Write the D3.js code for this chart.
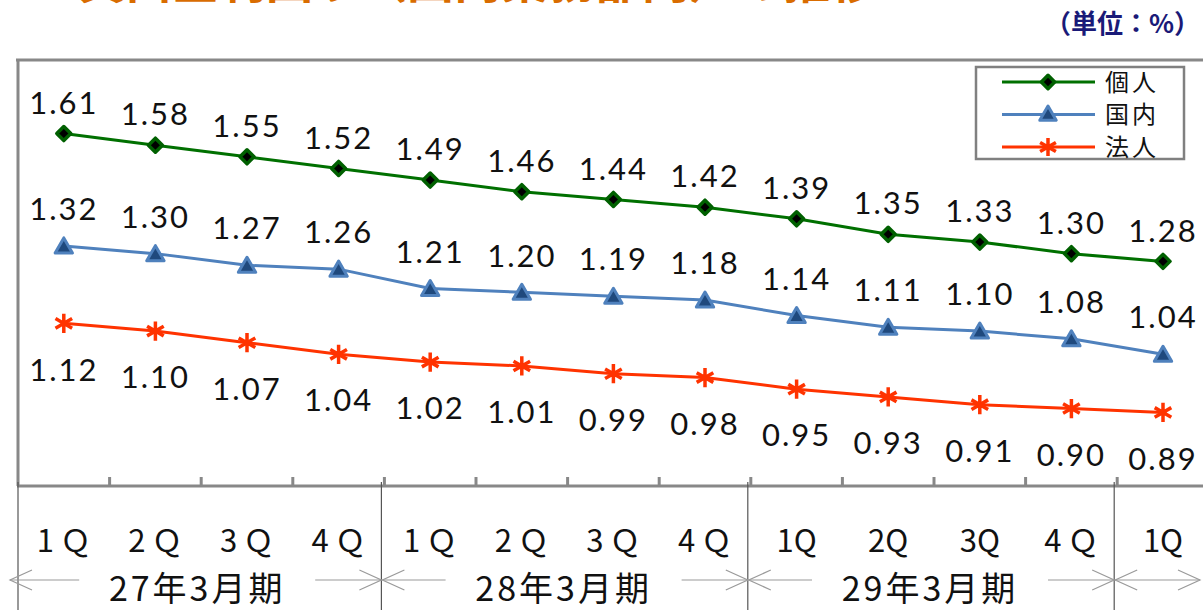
<!DOCTYPE html>
<html lang="ja">
<head>
<meta charset="utf-8">
<script src="https://cdn.jsdelivr.net/npm/d3@7"></script>
<style>
  html, body { margin: 0; padding: 0; background: #fff; }
  svg { display: block; }
</style>
</head>
<body>
<svg id="chart" width="1203" height="610"></svg>
<script>
// Quarter labels (13 quarters across three fiscal years plus one)
const quarters = ["1Ｑ", "2Ｑ", "3Ｑ", "4Ｑ", "1Ｑ", "2Ｑ", "3Ｑ", "4Ｑ", "1Q", "2Q", "3Q", "4Ｑ", "1Q"];
// Fiscal-year groups: label and number of quarters
const fiscalYears = ["27年3月期", "28年3月期", "29年3月期", ""];
const fiscalCounts = [4, 4, 4, 1];

// Series values (%)
const kojin = [1.61, 1.58, 1.55, 1.52, 1.49, 1.46, 1.44, 1.42, 1.39, 1.35, 1.33, 1.30, 1.28];
const kokunai = [1.32, 1.30, 1.27, 1.26, 1.21, 1.20, 1.19, 1.18, 1.14, 1.11, 1.10, 1.08, 1.04];
const houjin = [1.12, 1.10, 1.07, 1.04, 1.02, 1.01, 0.99, 0.98, 0.95, 0.93, 0.91, 0.90, 0.89];

const seriesNames = ["個人", "国内", "法人"];

const svg = d3.select("#chart");
const W = 1203, H = 610;

const plotLeft = 18, plotTop = 60, plotBottom = 486;
const step = 91.6;

const x = d3.scaleBand()
  .domain(d3.range(quarters.length))
  .range([plotLeft, plotLeft + step * quarters.length])
  .paddingInner(0).paddingOuter(0);
const cx = i => x(i) + x.bandwidth() / 2;

const y = d3.scaleLinear().domain([0.7, 1.8]).range([plotBottom, plotTop]);

const numFont = "Lato, 'Open Sans', sans-serif";
const jpFont = "'Noto Sans CJK JP', sans-serif";

// Title (runs off the top edge)
svg.append("text")
  .attr("x", 78).attr("y", -2)
  .attr("font-family", jpFont)
  .attr("font-weight", "bold")
  .attr("font-size", 47)
  .attr("fill", "#D96C00")
  .text("貸出金利回り（国内業務部門）の推移");

// Unit note
svg.append("text")
  .attr("x", 1200).attr("y", 33)
  .attr("text-anchor", "end")
  .attr("font-family", jpFont)
  .attr("font-weight", "bold")
  .attr("font-size", 26)
  .attr("fill", "#1a1a78")
  .text("（単位：%）");

// Plot frame
const frameColor = "#888";
svg.append("line").attr("x1", plotLeft - 2).attr("x2", W + 5)
  .attr("y1", plotTop).attr("y2", plotTop)
  .attr("stroke", frameColor).attr("stroke-width", 3);
svg.append("line").attr("x1", plotLeft).attr("x2", plotLeft)
  .attr("y1", plotTop).attr("y2", plotBottom)
  .attr("stroke", frameColor).attr("stroke-width", 3);

// Category axis with short upward ticks at quarter boundaries
const axisG = svg.append("g").attr("transform", `translate(0,${plotBottom})`);
const xAxis = d3.axisBottom(x).tickSize(0).tickFormat("");
axisG.call(xAxis);
axisG.select(".domain").remove();
axisG.append("line").attr("x1", plotLeft - 1).attr("x2", W + 5)
  .attr("y1", 0).attr("y2", 0)
  .attr("stroke", frameColor).attr("stroke-width", 3);
axisG.selectAll(".qtick")
  .data(d3.range(1, quarters.length))
  .join("line")
  .attr("class", "qtick")
  .attr("x1", i => x(i)).attr("x2", i => x(i))
  .attr("y1", -9).attr("y2", 0)
  .attr("stroke", frameColor).attr("stroke-width", 3);

// Quarter labels (full-width Ｑ drawn with wider spacing)
svg.append("g").selectAll("text")
  .data(quarters)
  .join("text")
  .attr("x", (d, i) => cx(i) + (d.includes("Ｑ") ? 3 : 0))
  .attr("y", 552)
  .attr("text-anchor", "middle")
  .attr("font-family", jpFont)
  .attr("font-size", 31)
  .attr("letter-spacing", d => d.includes("Ｑ") ? 6 : 0)
  .attr("fill", "#111")
  .text(d => d);

// Fiscal-year dividers and arrow brackets
const bounds = [0];
fiscalCounts.forEach(c => bounds.push(bounds[bounds.length - 1] + c));
const edgeX = k => (k < quarters.length ? x(k) : W + 10);
const divG = svg.append("g");
bounds.slice(0, -1).forEach(k => {
  const xx = edgeX(k) - (k === 0 ? 0 : 3);
  divG.append("line").attr("x1", xx).attr("x2", xx)
    .attr("y1", plotBottom - 4).attr("y2", H)
    .attr("stroke", "#555").attr("stroke-width", 1.2);
});

const arrowY = 580;
const arrowColor = "#9a9a9a";
function arrowHead(g, tipX, dir) {
  // dir = -1 points left, +1 points right
  g.append("path")
    .attr("d", `M${tipX - dir * 22},${arrowY - 10} L${tipX},${arrowY} L${tipX - dir * 22},${arrowY + 10}`)
    .attr("fill", "none").attr("stroke", arrowColor).attr("stroke-width", 1.2);
}
fiscalYears.forEach((label, gi) => {
  const g = svg.append("g");
  const x0 = gi === 0 ? 10 : edgeX(bounds[gi]) - 2;
  const x1 = gi === fiscalYears.length - 1 ? 1200 : edgeX(bounds[gi + 1]) - 3;
  const mid = (edgeX(bounds[gi]) + edgeX(bounds[gi + 1])) / 2 - 4;
  if (label) {
    g.append("text")
      .attr("x", mid).attr("y", 601)
      .attr("text-anchor", "middle")
      .attr("font-family", jpFont)
      .attr("font-size", 34)
      .attr("letter-spacing", 3)
      .attr("fill", "#111")
      .text(label);
    const half = 92;
    g.append("line").attr("x1", x0).attr("x2", mid - half - 26)
      .attr("y1", arrowY).attr("y2", arrowY).attr("stroke", arrowColor).attr("stroke-width", 1.2);
    g.append("line").attr("x1", mid + half + 26).attr("x2", x1)
      .attr("y1", arrowY).attr("y2", arrowY).attr("stroke", arrowColor).attr("stroke-width", 1.2);
  } else {
    g.append("line").attr("x1", x0).attr("x2", x1)
      .attr("y1", arrowY).attr("y2", arrowY).attr("stroke", arrowColor).attr("stroke-width", 1.2);
  }
  arrowHead(g, x0, -1);
  arrowHead(g, x1, 1);
});

// Series definitions
const series = [
  { name: seriesNames[0], values: kojin, line: "#007000", labelDy: -31,
    symbol: d3.symbolDiamond2, size: 125, fill: "#000", stroke: "#006000", sw: 3.5 },
  { name: seriesNames[1], values: kokunai, line: "#4f81bd", labelDy: -37,
    symbol: d3.symbolTriangle, size: 130, fill: "#1f497d", stroke: "#4f81bd", sw: 3 },
  { name: seriesNames[2], values: houjin, line: "#ff3300", labelDy: 46,
    symbol: d3.symbolAsterisk, size: 260, fill: "none", stroke: "#ff3300", sw: 3.5 }
];

const lineGen = d3.line().x((d, i) => cx(i)).y(d => y(d));

series.forEach(s => {
  const g = svg.append("g");
  g.append("path")
    .datum(s.values)
    .attr("d", lineGen)
    .attr("fill", "none")
    .attr("stroke", s.line)
    .attr("stroke-width", 3);
  g.selectAll("path.mark")
    .data(s.values)
    .join("path")
    .attr("class", "mark")
    .attr("transform", (d, i) => `translate(${cx(i)},${y(d) + (s.symbol === d3.symbolTriangle ? 2 : 0)})`)
    .attr("d", d3.symbol(s.symbol, s.size))
    .attr("fill", s.fill)
    .attr("stroke", s.stroke)
    .attr("stroke-width", s.sw)
    .attr("stroke-linejoin", "round");
  g.selectAll("text")
    .data(s.values)
    .join("text")
    .attr("x", (d, i) => cx(i))
    .attr("y", d => y(d) + s.labelDy)
    .attr("dy", "0.36em")
    .attr("text-anchor", "middle")
    .attr("font-family", numFont)
    .attr("font-size", 31)
    .attr("letter-spacing", 2)
    .attr("fill", "#111")
    .text(d => d.toFixed(2));
});

// Legend
const legend = svg.append("g");
legend.append("rect")
  .attr("x", 976).attr("y", 67).attr("width", 208).attr("height", 92)
  .attr("fill", "#fff").attr("stroke", "#808080").attr("stroke-width", 2.5);
series.forEach((s, i) => {
  const ly = 82 + i * 32.5;
  legend.append("line").attr("x1", 1002).attr("x2", 1095)
    .attr("y1", ly).attr("y2", ly)
    .attr("stroke", s.line).attr("stroke-width", 3);
  legend.append("path")
    .attr("transform", `translate(1048,${ly + (s.symbol === d3.symbolTriangle ? 1 : 0)})`)
    .attr("d", d3.symbol(s.symbol, s.size * 0.9))
    .attr("fill", s.fill).attr("stroke", s.stroke)
    .attr("stroke-width", s.sw).attr("stroke-linejoin", "round");
  legend.append("text")
    .attr("x", 1105).attr("y", ly)
    .attr("dy", "0.36em")
    .attr("font-family", jpFont)
    .attr("font-size", 24)
    .attr("letter-spacing", 3)
    .attr("fill", "#111")
    .text(s.name);
});
</script>
</body>
</html>
